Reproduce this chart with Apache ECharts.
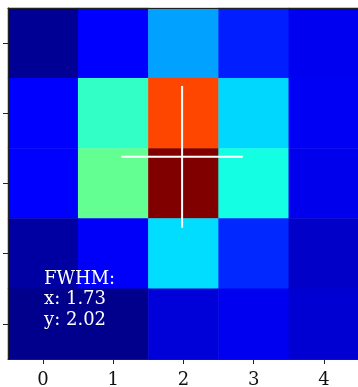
<!DOCTYPE html>
<html>
<head>
<meta charset="utf-8">
<script src="https://cdn.jsdelivr.net/npm/echarts@6/dist/echarts.min.js"></script>
<style>
html,body{margin:0;padding:0;background:#fff;}
#chart{width:358px;height:387px;}
</style>
</head>
<body>
<div id="chart"></div>
<script>
// ---- data ----
const xCategories = ['0', '1', '2', '3', '4'];
const yCategories = ['0', '1', '2', '3', '4'];
const row0 = [0.019, 0.115, 0.282, 0.154, 0.097];
const row1 = [0.115, 0.411, 0.836, 0.336, 0.101];
const row2 = [0.115, 0.472, 1.000, 0.374, 0.093];
const row3 = [0.030, 0.106, 0.341, 0.164, 0.063];
const row4 = [0.011, 0.011, 0.076, 0.097, 0.071];
const centroid = [1.98, 1.62];
const fwhm = [1.73, 2.02];
const fwhmText = ['FWHM:', 'x: 1.73', 'y: 2.02'];

// ---- jet colormap (matplotlib segment data) ----
const jetSeg = {
  r: [[0, 0], [0.35, 0], [0.66, 1], [0.89, 1], [1, 0.5]],
  g: [[0, 0], [0.125, 0], [0.375, 1], [0.64, 1], [0.91, 0], [1, 0]],
  b: [[0, 0.5], [0.11, 1], [0.34, 1], [0.65, 0], [1, 0]]
};
function seg(s, v) {
  for (let i = 1; i < s.length; i++) {
    if (v <= s[i][0]) {
      const t = (v - s[i - 1][0]) / (s[i][0] - s[i - 1][0]);
      return s[i - 1][1] + t * (s[i][1] - s[i - 1][1]);
    }
  }
  return s[s.length - 1][1];
}
const jetColors = [];
for (let i = 0; i < 256; i++) {
  const v = i / 255;
  const r = Math.round(seg(jetSeg.r, v) * 255);
  const g = Math.round(seg(jetSeg.g, v) * 255);
  const b = Math.round(seg(jetSeg.b, v) * 255);
  jetColors.push('rgb(' + r + ',' + g + ',' + b + ')');
}

const rows = [row0, row1, row2, row3, row4];
const heatData = [];
rows.forEach((row, yi) => row.forEach((v, xi) => heatData.push([xi, yi, v])));

const cx = centroid[0], cy = centroid[1];
const hLine = [[cx - fwhm[0] / 2, cy], [cx + fwhm[0] / 2, cy]];
const vLine = [[cx, cy - fwhm[1] / 2], [cx, cy + fwhm[1] / 2]];

const chart = echarts.init(document.getElementById('chart'), null, {renderer: 'canvas'});
const serif = 'DejaVu Serif';
const axisCol = '#222';
chart.setOption({
  animation: false,
  backgroundColor: '#fff',
  grid: {left: 8, top: 8, width: 351, height: 351, containLabel: false, outerBoundsMode: 'none'},
  xAxis: [
    {
      type: 'category', data: xCategories, position: 'bottom', z: 10,
      axisLine: {show: true, onZero: false, lineStyle: {color: axisCol, width: 1}},
      axisTick: {show: true, alignWithLabel: true, length: 5, lineStyle: {color: axisCol, width: 1}},
      axisLabel: {show: true, margin: 12, fontFamily: serif, fontSize: 18, color: '#111'},
      splitLine: {show: false}
    },
    {
      type: 'value', min: -0.5, max: 4.5, position: 'top', z: 10,
      axisLine: {show: true, onZero: false, lineStyle: {color: axisCol, width: 1}},
      axisTick: {show: false}, axisLabel: {show: false}, splitLine: {show: false}
    }
  ],
  yAxis: [
    {
      type: 'category', data: yCategories, inverse: true, position: 'left', z: 10,
      axisLine: {show: true, onZero: false, lineStyle: {color: axisCol, width: 1}},
      axisTick: {show: true, alignWithLabel: true, length: 5, lineStyle: {color: axisCol, width: 1}},
      axisLabel: {show: false},
      splitLine: {show: false}
    },
    {
      type: 'value', min: -0.5, max: 4.5, inverse: true, position: 'right', z: 10,
      axisLine: {show: false, onZero: false},
      axisTick: {show: false}, axisLabel: {show: false}, splitLine: {show: false}
    }
  ],
  visualMap: {
    show: false, type: 'continuous', min: 0, max: 1, dimension: 2, seriesIndex: 0,
    inRange: {color: jetColors}
  },
  series: [
    {
      type: 'heatmap', xAxisIndex: 0, yAxisIndex: 0, data: heatData,
      itemStyle: {borderWidth: 0}, emphasis: {disabled: true}, progressive: 0
    },
    {
      type: 'line', xAxisIndex: 1, yAxisIndex: 1, data: hLine, symbol: 'none', z: 5,
      lineStyle: {color: '#fff', width: 2}, emphasis: {disabled: true}
    },
    {
      type: 'line', xAxisIndex: 1, yAxisIndex: 1, data: vLine, symbol: 'none', z: 5,
      lineStyle: {color: '#fff', width: 2}, emphasis: {disabled: true}
    }
  ],
  graphic: [
    {
      type: 'text', left: 44, top: 269, z: 20,
      style: {
        text: fwhmText.join('\n'), fill: '#fff', fontFamily: serif, fontSize: 18, lineHeight: 20.5
      }
    }
  ]
});
</script>
</body>
</html>
